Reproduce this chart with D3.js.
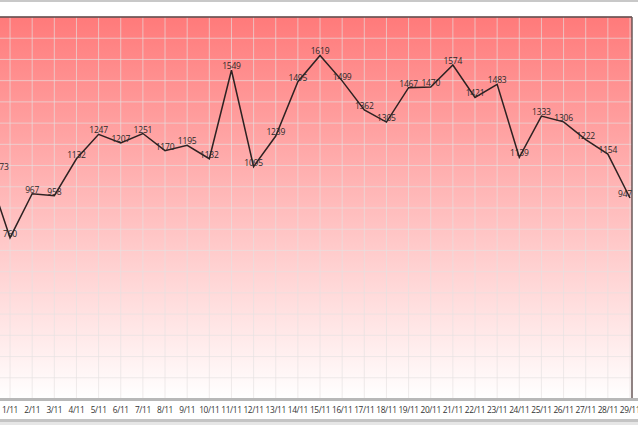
<!DOCTYPE html>
<html><head><meta charset="utf-8">
<script src="https://cdn.jsdelivr.net/npm/d3@7/dist/d3.min.js"></script>
<style>html,body{margin:0;padding:0;background:#fff;overflow:hidden}</style>
</head><body>
<script>
const categories = ["31/10","1/11","2/11","3/11","4/11","5/11","6/11","7/11","8/11","9/11","10/11","11/11","12/11","13/11","14/11","15/11","16/11","17/11","18/11","19/11","20/11","21/11","22/11","23/11","24/11","25/11","26/11","27/11","28/11","29/11"];
const values = [1073,760,967,958,1132,1247,1207,1251,1170,1195,1132,1549,1095,1239,1495,1619,1499,1362,1305,1467,1470,1574,1421,1483,1139,1333,1306,1222,1154,947];
const yTicks = d3.range(0, 1801, 100);

const W = 638, H = 425;
const plot = {left: -40, right: 632, top: 17, bottom: 399};
const labelBounds = [-10, 632];
const svg = d3.select("body").append("svg").attr("width", W).attr("height", H);

const defs = svg.append("defs");
const grad = defs.append("linearGradient").attr("id","bg").attr("x1",0).attr("y1",0).attr("x2",0).attr("y2",1);
grad.append("stop").attr("offset","0%").attr("stop-color","#ff7a7a");
grad.append("stop").attr("offset","100%").attr("stop-color","#ffffff");
defs.append("clipPath").attr("id","clip").append("rect")
  .attr("x", plot.left).attr("y", plot.top-12).attr("width", plot.right-plot.left+2).attr("height", plot.bottom-plot.top+12);

const x = d3.scalePoint().domain(categories).range([-12.1, 630]);
const y = d3.scaleLinear().domain([0, 1800]).range([plot.bottom, plot.top]);

// background
svg.append("rect").attr("x", plot.left).attr("y", plot.top).attr("width", plot.right-plot.left).attr("height", plot.bottom-plot.top).attr("fill","url(#bg)");

// grid
const g = svg.append("g");
g.selectAll("line.h").data(yTicks).join("line")
  .attr("x1", plot.left).attr("x2", plot.right).attr("y1", d=>y(d)).attr("y2", d=>y(d))
  .attr("stroke","#e6e2e2").attr("stroke-width",1).attr("opacity",0.65);
g.selectAll("line.v").data(categories).join("line")
  .attr("x1", d=>x(d)).attr("x2", d=>x(d)).attr("y1", plot.top).attr("y2", plot.bottom)
  .attr("stroke","#e6e2e2").attr("stroke-width",1).attr("opacity",0.65);

// borders
svg.append("line").attr("x1",0).attr("x2",plot.right).attr("y1",plot.top).attr("y2",plot.top).attr("stroke","#5a4040").attr("stroke-width",1.5);
svg.append("line").attr("x1",plot.right).attr("x2",plot.right).attr("y1",plot.top).attr("y2",plot.bottom).attr("stroke","#6a5a5a").attr("stroke-width",1.5);
svg.append("rect").attr("x",0).attr("y",plot.bottom-1).attr("width",W).attr("height",3).attr("fill","#b8b8b8");
svg.append("rect").attr("x",0).attr("y",0).attr("width",W).attr("height",2).attr("fill","#c8c8c8");
svg.append("rect").attr("x",0).attr("y",419).attr("width",W).attr("height",3).attr("fill","#c4c4c4");
svg.append("rect").attr("x",0).attr("y",422).attr("width",W).attr("height",3).attr("fill","#e6e6e6");

// line
const cg = svg.append("g").attr("clip-path","url(#clip)");
cg.append("path").datum(values)
  .attr("fill","none").attr("stroke","#2e2222").attr("stroke-width",1.5).attr("stroke-linejoin","miter")
  .attr("d", d3.line().x((d,i)=>x(categories[i])).y(d=>y(d)));

// data labels (kept inside the plot bounds)
const lbl = svg.append("g").selectAll("text.v").data(values).join("text")
  .attr("x",(d,i)=>x(categories[i])).attr("y", d=>y(d)-1)
  .attr("text-anchor","middle").attr("font-family","Open Sans, DejaVu Sans, sans-serif")
  .attr("font-size","8.5px").attr("letter-spacing","-0.2px").attr("fill","#2a2a2a").text(d=>d);
lbl.each(function(d,i){
  const w = this.getComputedTextLength();
  let cx = x(categories[i]);
  cx = Math.max(labelBounds[0] + w/2, Math.min(labelBounds[1] - w/2, cx));
  d3.select(this).attr("x", cx);
});

// x labels
defs.append("clipPath").attr("id","clipx").append("rect").attr("x",0).attr("y",400).attr("width",W).attr("height",20);
const xl = svg.append("g").attr("clip-path","url(#clipx)");
xl.selectAll("text.x").data(categories).join("text")
  .attr("x", d=>x(d)).attr("y", 413)
  .attr("text-anchor","middle").attr("font-family","Open Sans, DejaVu Sans, sans-serif")
  .attr("font-size","8.3px").attr("letter-spacing","-0.35px").attr("fill","#333").text(d=>d);
</script>
</body></html>
